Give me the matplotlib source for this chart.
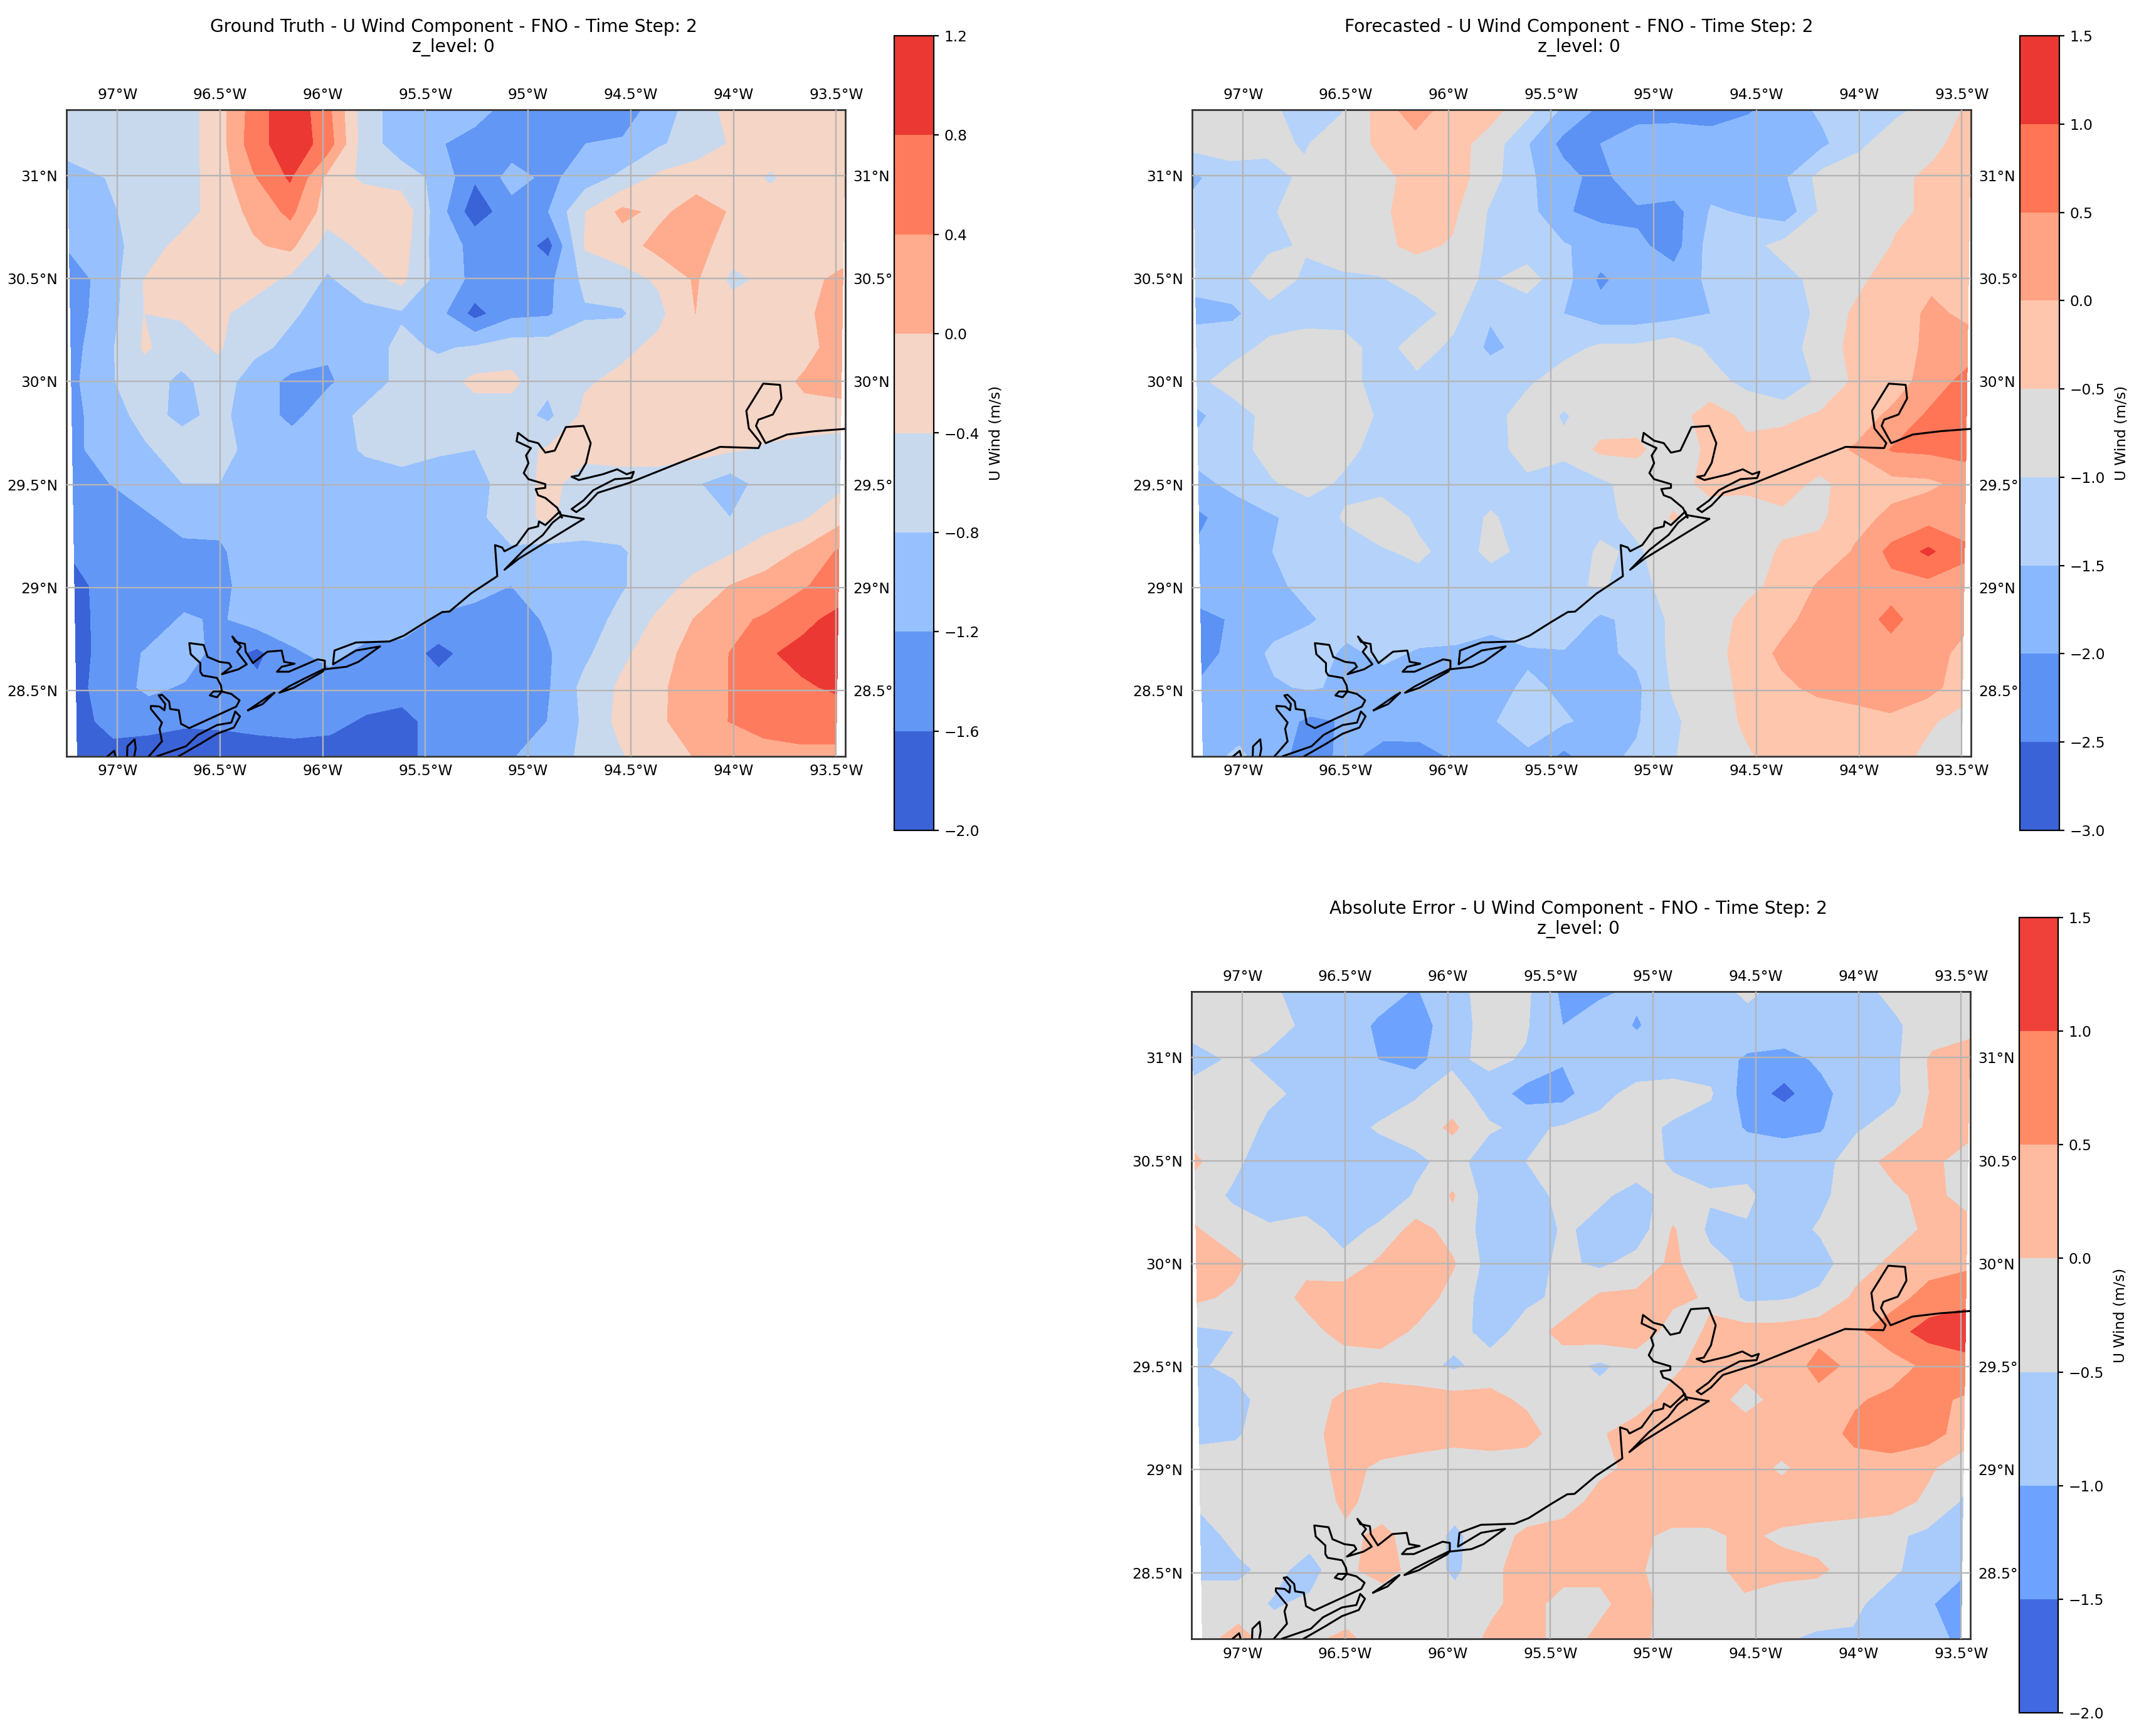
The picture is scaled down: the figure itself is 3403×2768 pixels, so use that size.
import numpy as np
import matplotlib
matplotlib.use("Agg")
import matplotlib.pyplot as plt

W, H = 3403, 2768

lat_grid = np.linspace(31.32, 28.185, 20)
# the model grid is slightly skewed on the map, narrower towards the south
west_edge = np.linspace(-97.245, -97.195, 20)
east_edge = np.linspace(-93.455, -93.50, 20)
lon_grid = np.linspace(west_edge, east_edge, 22, axis=1)
lat_grid2d = np.repeat(lat_grid[:, None], 22, axis=1)

lon_ticks = [-97, -96.5, -96, -95.5, -95, -94.5, -94, -93.5]
lon_labels = ["97°W", "96.5°W", "96°W", "95.5°W", "95°W", "94.5°W", "94°W", "93.5°W"]
lat_ticks = [31, 30.5, 30, 29.5, 29, 28.5]
lat_labels = ["31°N", "30.5°N", "30°N", "29.5°N", "29°N", "28.5°N"]
lat_labels_right = ["31°N", "30.5°", "30°N", "29.5°", "29°N", "28.5°"]

truth = [
    [-.6,-.6,-.6,-.6,-.25,.55,1.1,.55,-.6,-1,-1,-1,-1.4,-1.4,-1.4,-1.4,-1,-.6,-.25,-.2,-.2,-.2],
    [-.6,-.6,-.6,-.6,-.25,.6,1.05,.65,-.6,-1,-1.15,-1.4,-1.4,-1.25,-1.2,-1.15,-.85,-.6,-.35,-.2,-.2,-.2],
    [-1,-.8,-.6,-.6,-.25,.35,.85,-.1,-.5,-.6,-.9,-1.55,-1.05,-1.3,-1,-.7,-.3,-.2,-.2,-.45,-.2,-.2],
    [-.95,-.9,-.6,-.6,-.25,.1,.5,-.2,0,-.1,-1,-1.85,-1.35,-1.2,-.4,.1,-.1,.2,-.05,-.2,-.2,-.3],
    [-1.15,-1,-.6,-.3,-.2,-.05,.1,-.6,-.3,-.2,-1,-1.3,-1.3,-1.75,-.35,-.2,.15,.15,-.2,-.2,-.2,-.2],
    [-1.4,-1.05,-.4,-.3,-.25,-.2,-.5,-.85,-.6,-.3,-.95,-1.3,-1.3,-1.3,-.7,-.55,-.35,.05,-.5,-.3,-.1,.1],
    [-1.4,-1,-.4,-.35,-.3,-.6,-.75,-.95,-.9,-.85,-1.05,-1.75,-1.3,-1.25,-.85,-.85,-.5,0,-.2,-.2,-.05,.15],
    [-1.35,-.9,-.35,-.6,-.35,-.7,-.9,-1.15,-1,-.7,-.85,-.75,-.6,-.6,-.6,-.5,-.3,-.2,-.05,-.2,-.1,.15],
    [-1.3,-.85,-.6,-.9,-.6,-1,-1.3,-1.25,-1,-.7,-.6,-.3,-.3,-.7,-.45,-.3,-.2,-.2,-.2,-.15,.05,.2],
    [-1.3,-1,-.65,-.9,-.7,-1,-1.3,-1,-.7,-.6,-.6,-.6,-.6,-.9,-.3,-.2,-.2,-.3,-.2,-.2,-.1,-.2],
    [-1.3,-1,-.85,-.6,-.65,-.95,-1,-1,-.75,-.6,-.75,-.8,-.55,-.35,-.3,-.2,-.2,-.25,-.35,-.45,-.6,-.6],
    [-1.4,-1.2,-1,-.8,-.8,-1,-1,-1,-1,-1,-1,-.95,-.6,-.3,-.55,-.6,-.6,-.75,-1,-.6,-.6,-.5],
    [-1.45,-1.3,-1.25,-1.05,-1.1,-1,-1,-1,-1,-1,-1,-.9,-.6,-.3,-.7,-.6,-.6,-.6,-.8,-.6,-.45,-.15],
    [-1.55,-1.4,-1.3,-1.3,-1.25,-1,-1,-1,-1,-1,-1,-1,-.85,-.95,-.85,-.85,-.6,-.6,-.45,-.2,.05,.45],
    [-1.7,-1.45,-1.4,-1.4,-1.3,-1,-1,-1.15,-1,-1,-1,-1,-1.2,-.95,-.95,-.85,-.6,-.3,0,.15,.35,.6],
    [-1.75,-1.4,-1.4,-1.15,-1.25,-1,-1,-1.15,-1,-1,-1.25,-1.4,-1.4,-1.15,-1,-.7,-.35,0,.3,.45,.7,.9],
    [-1.75,-1.4,-1.15,-.95,-1.4,-1.7,-1.25,-1.1,-1.3,-1.35,-1.75,-1.4,-1.4,-1.25,-.9,-.5,-.2,.15,.4,.75,.9,1.0],
    [-1.7,-1.4,-1.1,-1.25,-1.4,-1.5,-1.4,-1.35,-1.4,-1.4,-1.4,-1.4,-1.4,-1.25,-.7,-.35,-.1,.2,.4,.7,.75,.85],
    [-1.7,-1.5,-1.5,-1.55,-1.55,-1.5,-1.5,-1.5,-1.65,-1.75,-1.4,-1.4,-1.35,-1.2,-.75,-.3,-.1,.2,.4,.55,.6,.6],
    [-1.8,-1.7,-1.75,-1.8,-1.75,-1.75,-1.7,-1.75,-1.75,-1.75,-1.4,-1.4,-1.25,-.95,-.75,-.45,-.15,0,.2,.25,.3,.3],
]

forecast = [
    [-.75,-.75,-.85,-1.25,-1.05,-.35,.3,-.3,-.3,-.8,-1.6,-2.1,-2.2,-2.2,-2.2,-2.05,-1.75,-1.4,-1.2,-1.1,-.8,-.4],
    [-.8,-.8,-.85,-1.05,-.7,-.45,-.2,-.3,-.7,-1.45,-2.15,-2,-1.75,-1.7,-1.8,-1.7,-1.55,-1.6,-1.1,-.7,-.6,-.3],
    [-1.6,-1.2,-1.2,-.9,-.75,-.6,-.4,-.25,-.8,-1.4,-1.8,-2.2,-1.6,-1.6,-1.7,-1.7,-1.55,-.8,-.7,-.6,-.4,-.3],
    [-1.3,-1.2,-1.05,-.85,-.8,-.6,-.3,-.4,-1.05,-1.3,-1.95,-2.15,-2.1,-2.2,-1.45,-1.55,-1.8,-.9,-.8,-.6,-.4,-.3],
    [-1.5,-1.3,-1.1,-.95,-.7,-.6,-.4,-.55,-1.1,-1.25,-1.45,-1.7,-1.9,-2.2,-1.3,-1.2,-.8,-.9,-.9,-.45,-.3,-.2],
    [-1.4,-1.25,-.7,-1.1,-1.1,-1.05,-.8,-.9,-1.05,-.8,-1.3,-2.1,-1.7,-1.8,-1.4,-1.1,-1.2,-.8,-.6,-.25,-.1,-.25],
    [-1.6,-1.6,-1.2,-1.2,-1.2,-1.4,-1.2,-.85,-1.45,-1.3,-1.5,-1.8,-1.8,-1.7,-1.5,-1.15,-1.5,-.8,-.4,-.25,.1,-.1],
    [-1.3,-1.15,-.9,-.75,-.8,-1.2,-.8,-1.1,-1.6,-1.35,-1.2,-.9,-.9,-.7,-1.1,-1.2,-1.2,-.8,-.3,-.2,.1,.2],
    [-1.1,-.8,-.7,-.85,-.9,-1.1,-1.1,-1.2,-1.2,-1.1,-.7,-.8,-.7,-.75,-.8,-1.15,-1.5,-.85,-.4,-.2,.2,.7],
    [-1.6,-1.2,-.85,-.7,-.6,-1.1,-1.2,-1.3,-1.25,-.7,-1.05,-.75,-.7,-.7,-.3,-.6,-.6,-.45,-.2,.1,.6,.8],
    [-1.35,-1.2,-.8,-.7,-.85,-1.2,-1.2,-1.3,-1.2,-.8,-.9,-.4,-.4,-.8,-.4,-.4,-.3,-.2,.05,.55,.6,.7],
    [-1.6,-1.4,-1.05,-.8,-1.1,-1.2,-1.5,-1.45,-1.2,-1.1,-1.2,-1.1,-.8,-.7,-.35,-.4,-.3,-.6,-.3,-.15,-.1,.15],
    [-2.1,-1.7,-1.55,-1.3,-.95,-.7,-1.1,-1.2,-.95,-1.2,-1.5,-1.1,-.9,-.45,-.75,-.7,-.6,-.6,-.15,.1,.3,.25],
    [-1.9,-1.65,-1.5,-1.3,-1.2,-1.05,-.9,-1.2,-.9,-1.1,-1.2,-.95,-1.05,-.8,-.75,-.7,-.45,-.35,.05,.65,1.1,.6],
    [-1.6,-1.6,-1.6,-1.35,-1.2,-1.3,-1.2,-1.4,-1.2,-1.2,-1.1,-.95,-1.2,-.75,-.65,-.6,-.4,.05,.2,.35,.35,.3],
    [-2.2,-1.9,-1.7,-1.55,-1.3,-1.3,-1.25,-1.2,-1.1,-1.05,-1.1,-1.6,-1.35,-.9,-.7,-.4,-.15,.2,.3,.6,.3,.2],
    [-2.2,-1.8,-1.4,-1.25,-1.6,-1.4,-1.55,-1.6,-2,-1.6,-1.55,-1.6,-1.4,-.9,-.7,-.3,.1,.2,.3,.35,.35,-.2],
    [-1.9,-1.6,-1.55,-1.45,-1.6,-1.7,-1.7,-1.8,-1.7,-1.4,-1.6,-1.8,-1.6,-.95,-.7,-.4,-.1,.1,.2,.3,.2,-.25],
    [-1.8,-1.75,-1.8,-2.1,-1.95,-1.8,-1.7,-1.65,-1.55,-1.2,-1.45,-1.65,-1.55,-1.1,-.7,-.45,-.3,-.25,-.2,-.1,-.4,-.7],
    [-1.7,-1.4,-1.9,-2.15,-1.9,-2.15,-2.2,-1.9,-1.7,-1.6,-2.1,-1.6,-1.45,-1.05,-.65,-.55,-.35,-.3,-.3,-.25,-.6,-.7],
]

error = [
    [-.3,-.3,-.4,-.65,-.7,-.7,-1.05,-.7,-.3,-.4,-1.1,-1.1,-.9,-.7,-.6,-.45,-.6,-.6,-.6,-.4,-.3,-.3],
    [-.3,-.3,-.35,-.55,-.6,-1.1,-1.3,-.7,-.35,-.45,-1,-.7,-1.05,-.7,-.6,-.6,-.6,-.6,-.6,-.55,-.3,-.1],
    [-.7,-.45,-.55,-.75,-.6,-1,-1.2,-.6,-.4,-.55,-.95,-.65,-.7,-.7,-.7,-1.1,-1.2,-.9,-.7,-.6,.1,.15],
    [-.3,-.3,-.45,-.55,-.6,-.75,-.55,-.3,-.7,-1.2,-1.2,-.6,-.4,-.35,-.45,-1.25,-1.65,-1.15,-.7,-.6,.05,.15],
    [-.3,-.35,-.55,-.75,-.7,-.45,-.3,.1,-.45,-.6,-.45,-.4,-.4,-.55,-.7,-1.05,-1.1,-1.05,-.55,-.3,.1,.15],
    [.1,-.4,-.7,-.7,-.75,-.75,-.6,-.35,-.7,-.5,-.3,-.45,-.35,-.55,-.7,-.7,-.8,-.7,-.2,.15,.1,-.2],
    [-.3,-.55,-.7,-.8,-.9,-.85,-.45,.05,-.75,-.75,-.35,-.45,-.6,-.4,-.45,-.4,-.8,-.6,-.25,-.1,.15,-.2],
    [.05,-.35,-.45,-.3,-.7,-.4,.2,-.2,-.7,-.8,-.45,-.6,-.8,.05,-.6,-.55,-.7,-.45,-.2,-.2,.1,.2],
    [.2,.15,-.3,-.15,-.35,.1,.25,.05,-.7,-.7,-.4,-.6,-.3,.1,-.35,-.6,-1,-.7,-.2,.1,.3,.4],
    [.1,-.1,-.3,.15,.3,.3,.3,-.2,-.75,-.6,-.4,.1,.1,.1,-.05,-.6,-.55,-.4,.1,.3,.7,.85],
    [-.6,-.5,-.4,-.2,.2,.3,-.1,-.3,-.7,-.3,.2,.35,.3,-.2,.05,.2,.2,.3,.4,.8,1.2,1.3],
    [-.55,-.4,-.3,-.3,-.3,-.3,-.3,-.6,-.3,-.4,-.3,-.6,-.3,-.1,.2,.2,.1,.7,.35,.3,.6,.8],
    [-.7,-.65,-.3,-.2,.1,.3,.2,.2,.15,-.1,-.3,-.3,-.2,.15,.25,-.2,.2,.3,.45,.6,.6,.45],
    [-.6,-.55,-.3,-.15,.2,.3,.25,.2,.2,.2,-.3,-.05,.2,.3,.3,.3,.35,.3,.6,.7,.7,.3],
    [-.3,-.3,-.3,-.2,.15,-.1,-.2,-.3,-.2,-.3,-.1,-.1,.1,.3,.3,.3,-.1,.3,.35,.35,.1,-.3],
    [-.4,-.3,-.3,-.3,.1,-.2,-.3,-.3,-.3,-.3,-.2,.15,.1,.3,.3,.3,.3,.3,.3,.25,-.1,-.55],
    [-.7,-.35,-.3,-.3,-.1,.1,-.2,-.6,-.2,.1,.2,.15,.1,-.1,-.1,.1,-.1,-.2,-.3,-.4,-.6,-1],
    [-.6,-.6,-.35,-.7,-.1,.2,-.2,-.6,-.1,.2,.2,.1,.1,-.3,-.2,.2,.2,.1,-.2,-.4,-.7,-.9],
    [-.3,-.3,-.55,-.4,-.3,-.3,-.3,-.3,-.1,.2,-.2,-.1,.2,-.2,-.3,-.1,-.35,-.3,-.4,-.7,-.9,-1.3],
    [-.2,.2,-.3,-.1,.1,-.3,-.3,-.3,.1,.2,-.2,.1,.2,-.3,-.4,-.4,-.45,-.55,-.55,-.6,-.8,-1.1],
]

truth_levels = [-2.0, -1.6, -1.2, -0.8, -0.4, 0.0, 0.4, 0.8, 1.2]
forecast_levels = [-3.0, -2.5, -2.0, -1.5, -1.0, -0.5, 0.0, 0.5, 1.0, 1.5]
error_levels = [-2.0, -1.5, -1.0, -0.5, 0.0, 0.5, 1.0, 1.5]

truth_colors = ["#3B63D8", "#6397F5", "#97C1FE", "#C8D9EE", "#F5D5C6", "#FFAC8E", "#FF7B5D", "#EC3833"]
forecast_colors = ["#3B63D8", "#5B92F4", "#8AB8FF", "#B5D3FA", "#DCDCDC", "#FFC6AE", "#FFA384", "#FF7556", "#EC3833"]
error_colors = ["#4169E1", "#6DA3FF", "#A8CBFC", "#DCDCDC", "#FFBBA0", "#FF8B66", "#F0403A"]

coast_main_lon = [-96.846,-96.783,-96.795,-96.783,-96.837,-96.837,-96.795,-96.771,-96.767,-96.799,-96.783,-96.748,-96.743,-96.701,-96.690,-96.650,
    -96.421,-96.405,-96.445,-96.491,-96.533,-96.550,-96.515,-96.491,-96.496,-96.515,-96.585,-96.596,-96.596,-96.643,-96.650,-96.580,-96.561,
    -96.503,-96.456,-96.445,-96.491,-96.410,-96.370,-96.417,-96.398,-96.440,-96.426,-96.379,-96.375,-96.340,-96.270,-96.200,-96.188,-96.137,
    -96.200,-96.223,-96.165,-96.025,-95.990,-95.990,-95.885,-95.826,-95.721,-95.838,-95.950,-95.943,-95.838,-95.675,-95.605,-95.500,-95.418,
    -95.383,-95.278,-95.150,-95.161,-95.126,-95.115,-95.056,-94.998,-94.951,-94.947,-94.916,-94.846,-94.835,-94.858,-94.916,-94.951,-94.963,
    -94.916,-94.916,-94.998,-95.021,-94.998,-95.010,-94.986,-95.056,-95.049,-94.998,-94.951,-94.916,-94.870,-94.816,-94.730,-94.695,-94.718,
    -94.753,-94.788,-94.753,-94.636,-94.566,-94.520,-94.485,-94.496,-94.578,-94.683,-94.730,-94.788,-94.765,-94.718,-94.660,-94.508,-94.252,
    -94.065,-93.878,-93.867,-93.925,-93.937,-93.855,-93.773,-93.766,-93.808,-93.878,-93.890,-93.843,-93.738,-93.603,-93.46]
coast_main_lat = [28.181,28.253,28.314,28.344,28.410,28.425,28.422,28.404,28.434,28.476,28.479,28.446,28.410,28.404,28.338,28.317,
    28.422,28.452,28.483,28.495,28.495,28.476,28.467,28.495,28.525,28.561,28.573,28.591,28.633,28.676,28.730,28.721,28.663,
    28.639,28.633,28.615,28.579,28.603,28.627,28.688,28.712,28.762,28.736,28.726,28.688,28.633,28.688,28.694,28.639,28.630,
    28.615,28.591,28.591,28.651,28.645,28.603,28.615,28.639,28.714,28.694,28.627,28.694,28.733,28.738,28.766,28.832,28.881,
    28.883,28.971,29.055,29.206,29.194,29.176,29.206,29.285,29.297,29.321,29.303,29.369,29.339,29.387,29.435,29.448,29.478,
    29.484,29.502,29.526,29.556,29.604,29.641,29.677,29.710,29.751,29.713,29.701,29.655,29.665,29.779,29.785,29.701,29.604,
    29.544,29.538,29.522,29.550,29.574,29.550,29.562,29.532,29.526,29.472,29.423,29.381,29.366,29.399,29.460,29.508,29.610,
    29.683,29.677,29.701,29.773,29.858,29.990,29.984,29.918,29.840,29.815,29.785,29.701,29.743,29.759,29.77]

galveston_lon = [-94.730,-94.835,-94.881,-94.928,-95.021,-95.115,-95.045,-94.858,-94.730]
galveston_lat = [29.333,29.351,29.315,29.255,29.182,29.086,29.140,29.255,29.333]
matagorda_lon = [-95.990,-96.095,-96.165,-96.211,-96.141,-96.001,-95.990]
matagorda_lat = [28.606,28.555,28.519,28.489,28.513,28.591,28.606]
islet_lon = [-96.363,-96.258,-96.235,-96.293,-96.363]
islet_lat = [28.404,28.476,28.489,28.434,28.404]
padre_lon = [-96.701,-96.596,-96.515,-96.433,-96.403,-96.426,-96.445,-96.515,-96.608,-96.666,-96.806]
padre_lat = [28.181,28.241,28.290,28.320,28.374,28.398,28.344,28.332,28.284,28.229,28.181]
bit1_lon = [-97.047,-97.016,-97.009]
bit1_lat = [28.181,28.207,28.181]
bit2_lon = [-96.953,-96.951,-96.916,-96.911,-96.918]
bit2_lat = [28.181,28.229,28.263,28.217,28.181]

coast_lines = [(coast_main_lon, coast_main_lat), (galveston_lon, galveston_lat), (matagorda_lon, matagorda_lat),
               (islet_lon, islet_lat), (padre_lon, padre_lat), (bit1_lon, bit1_lat), (bit2_lon, bit2_lat)]


def px_axes(fig, left, right, top, bottom):
    return fig.add_axes([left / W, 1 - bottom / H, (right - left) / W, (bottom - top) / H])


def draw_panel(fig, box, cbox, values, levels, colors, name):
    ax = px_axes(fig, *box)
    cs = ax.contourf(lon_grid, lat_grid2d, np.array(values), levels=levels, colors=colors)
    ax.set_xlim(-97.248, -93.455)
    ax.set_ylim(28.18, 31.32)
    ax.grid(True, color="#b4b4b4", lw=0.85)
    ax.set_axisbelow(False)
    for lon, lat in coast_lines:
        ax.plot(lon, lat, color="black", lw=1.1, zorder=4)
    ax.set_xticks(lon_ticks, lon_labels)
    ax.set_yticks(lat_ticks, lat_labels)
    ax.tick_params(axis="x", length=0, labelsize=8.4, top=True, labeltop=True, pad=4.5)
    ax.tick_params(axis="y", length=0, labelsize=8.4, pad=5)
    right = ax.secondary_yaxis("right")
    right.set_yticks(lat_ticks, lat_labels_right)
    right.tick_params(length=0, labelsize=8.4, pad=4.5)
    right.spines["right"].set_visible(False)
    for s in ax.spines.values():
        s.set_linewidth(1.0)
        s.set_color("#333333")
    ax.set_title(name + " - U Wind Component - FNO - Time Step: 2\nz_level: 0", fontsize=10.15, pad=33, x=0.497)
    cax = px_axes(fig, *cbox)
    cb = fig.colorbar(cs, cax=cax, ticks=levels)
    cb.set_label("U Wind (m/s)", fontsize=8.4, labelpad=5)
    cb.ax.tick_params(labelsize=8.4, length=3, pad=3)
    cb.ax.set_yticklabels([f"{v:.1f}".replace("-", "\u2212") for v in levels])
    return ax


fig = plt.figure(figsize=(W / 200, H / 200), dpi=200)
draw_panel(fig, (106, 1348, 175, 1206), (1426, 1489, 57, 1324), truth, truth_levels, truth_colors, "Ground Truth")
draw_panel(fig, (1901, 3143, 175, 1206), (3221, 3284, 57, 1324), forecast, forecast_levels, forecast_colors, "Forecasted")
draw_panel(fig, (1900, 3142, 1581, 2613), (3220, 3282, 1463, 2731), error, error_levels, error_colors, "Absolute Error")
fig.savefig("out.png", dpi=200)
